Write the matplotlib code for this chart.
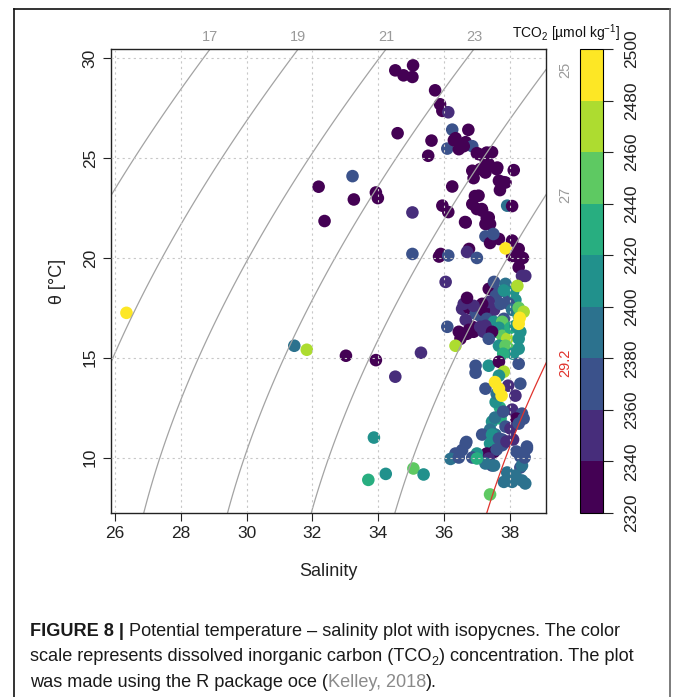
import numpy as np
import matplotlib
matplotlib.use('Agg')
import matplotlib.pyplot as plt
from matplotlib.colors import ListedColormap, BoundaryNorm
from matplotlib.cm import ScalarMappable
from matplotlib.lines import Line2D

plt.rcParams['font.family'] = ['Liberation Sans', 'DejaVu Sans']
plt.rcParams['mathtext.fontset'] = 'custom'
plt.rcParams['mathtext.rm'] = 'Liberation Sans'
plt.rcParams['mathtext.it'] = 'Liberation Sans:italic'
plt.rcParams['mathtext.bf'] = 'Liberation Sans:bold'

# ---------------- data ----------------
salinity = [
    26.35, 31.45, 31.83, 33.02, 32.19, 33.22, 33.26, 32.37, 33.93, 33.99,
    35.04, 35.04, 35.85, 33.93, 35.30, 34.52, 33.87, 33.70, 34.23, 35.07, 35.38,
    34.52, 34.77, 35.04, 35.06, 35.73, 35.88, 35.95, 36.13, 34.59, 35.62,
    35.52, 36.25, 36.74, 36.35, 36.10, 36.45, 36.66, 36.86, 37.00, 37.46,
    37.26, 37.10, 37.26, 37.62, 37.67, 37.87, 38.12, 36.25, 37.05, 36.86,
    37.16, 37.36, 36.66, 37.26, 37.92, 38.07, 35.95, 36.13, 36.30, 36.60,
    37.06, 37.30, 36.86, 36.90, 37.36, 37.60, 37.70, 37.80, 36.94, 37.00,
    37.15, 37.30, 37.40, 36.64, 36.76,
    37.26, 37.46, 37.67, 38.07, 38.27, 35.90, 36.13, 36.70, 37.00, 37.40,
    38.07, 38.27, 38.27, 38.47, 37.50, 38.40,
    36.05, 37.36, 37.52, 37.87, 38.37, 37.57, 37.97, 38.17, 37.67, 37.82,
    38.10, 36.55, 36.76, 36.96, 37.10, 37.36, 37.52, 37.21, 37.36, 37.16,
    36.90, 36.60, 36.70, 37.72, 37.97, 38.07, 38.27, 38.27, 37.82, 37.30,
    37.52, 37.77, 37.67, 37.60, 37.77, 37.92, 37.97, 38.27, 38.27, 37.67,
    37.87, 38.02, 38.17, 38.32, 36.50, 36.70, 36.86, 37.26, 36.10, 36.66,
    36.45, 36.76, 36.90, 37.10, 37.20, 37.46, 37.36, 38.10, 37.80, 36.35,
    38.23, 38.42,
    37.36, 36.96, 37.67, 38.27, 37.82, 36.96, 37.67, 37.26, 38.32, 38.17,
    37.70, 37.57, 38.07, 38.37, 38.20, 37.46, 37.72, 37.87, 38.02, 38.27,
    38.42, 37.40, 37.16, 37.56, 37.46, 37.40, 37.77, 37.67, 37.77, 37.90,
    38.10, 37.52, 37.30, 37.60, 37.55, 37.80, 37.95, 37.60,
    36.66, 36.68, 36.55, 36.35, 37.00, 36.86, 36.20, 36.45, 37.36, 37.46,
    38.52, 38.32, 38.32, 38.37, 37.92, 38.17, 38.37, 37.82, 38.07, 38.47,
    37.52, 37.26, 37.00, 37.40, 38.45, 38.20, 38.52,
    37.87, 38.27, 37.55, 37.67, 37.75, 38.30,
]
theta = [
    17.25, 15.60, 15.40, 15.10, 23.57, 24.10, 22.93, 21.85, 23.28, 23.00,
    22.28, 20.20, 20.07, 14.88, 15.25, 14.05, 11.00, 8.88, 9.18, 9.45, 9.15,
    29.40, 29.15, 29.07, 29.65, 28.40, 27.70, 27.37, 27.30, 26.25, 25.88,
    25.12, 26.43, 26.42, 26.00, 25.48, 25.45, 25.80, 25.60, 25.25, 25.30,
    24.95, 24.45, 24.28, 24.53, 23.87, 23.78, 24.40, 23.58, 23.12, 22.70,
    22.37, 22.03, 21.78, 21.70, 22.62, 22.60, 22.62, 22.30, 25.90, 25.60,
    25.20, 25.28, 24.37, 24.00, 24.70, 24.45, 23.40, 23.80, 23.10, 22.45,
    22.45, 22.00, 21.70, 21.80, 20.45,
    21.08, 21.15, 20.95, 20.87, 20.45, 20.20, 20.12, 20.30, 20.00, 20.75,
    20.10, 20.00, 19.53, 19.10, 21.20, 20.00,
    18.80, 18.45, 18.80, 18.70, 19.10, 18.10, 18.10, 17.90, 18.30, 18.37,
    18.30, 17.45, 17.50, 17.20, 17.10, 17.20, 17.40, 17.37, 17.80, 17.70,
    17.60, 17.70, 18.00, 17.70, 17.70, 17.40, 17.10, 17.50, 16.95, 16.95,
    16.80, 16.80, 16.50, 16.30, 16.10, 15.95, 15.45, 15.95, 15.45, 15.60,
    15.60, 16.50, 16.60, 16.30, 15.95, 16.20, 16.55, 16.60, 16.55, 16.90,
    16.30, 16.40, 16.30, 16.55, 16.30, 16.30, 15.95, 15.20, 15.20, 15.60,
    18.60, 17.30,
    14.60, 14.60, 14.80, 14.70, 14.30, 14.25, 14.10, 13.45, 13.70, 13.10,
    12.50, 12.78, 12.40, 12.20, 11.95, 11.80, 11.95, 11.55, 11.45, 11.70,
    11.95, 11.40, 11.15, 11.15, 11.15, 10.70, 10.90, 10.95, 10.62, 10.80,
    10.90, 10.28, 10.20, 10.40, 12.00, 12.30, 13.60, 13.20,
    10.70, 10.78, 10.37, 10.20, 10.20, 10.00, 9.93, 10.00, 9.95, 9.60,
    10.45, 10.05, 9.50, 9.60, 9.25, 9.10, 8.85, 8.78, 8.78, 8.70,
    9.60, 9.70, 9.95, 8.15, 10.00, 10.30, 10.55,
    20.48, 16.70, 13.78, 13.45, 13.10, 17.00,
]
tco2 = [
    2490, 2390, 2470, 2330, 2330, 2370, 2330, 2330, 2330, 2330,
    2350, 2370, 2330, 2330, 2350, 2350, 2410, 2430, 2410, 2450, 2410,
    2330, 2330, 2330, 2330, 2330, 2330, 2330, 2350, 2330, 2330,
    2330, 2370, 2330, 2330, 2370, 2330, 2330, 2370, 2330, 2330,
    2330, 2330, 2330, 2330, 2330, 2330, 2330, 2330, 2330, 2330,
    2330, 2330, 2330, 2330, 2390, 2330, 2330, 2330, 2330, 2330,
    2330, 2330, 2330, 2330, 2330, 2330, 2330, 2330, 2330, 2330,
    2330, 2330, 2330, 2330, 2330,
    2370, 2370, 2330, 2330, 2330, 2330, 2370, 2350, 2370, 2330,
    2330, 2330, 2330, 2350, 2370, 2330,
    2350, 2330, 2370, 2390, 2350, 2370, 2370, 2410, 2370, 2410,
    2410, 2350, 2330, 2370, 2370, 2330, 2350, 2330, 2350, 2330,
    2350, 2350, 2330, 2370, 2370, 2390, 2410, 2450, 2370, 2370,
    2410, 2450, 2410, 2410, 2450, 2470, 2450, 2410, 2410, 2410,
    2450, 2430, 2410, 2410, 2330, 2330, 2330, 2350, 2370, 2350,
    2330, 2330, 2330, 2350, 2350, 2330, 2370, 2410, 2430, 2470,
    2470, 2470,
    2410, 2370, 2330, 2370, 2470, 2370, 2410, 2370, 2370, 2350,
    2430, 2410, 2350, 2370, 2330, 2410, 2430, 2370, 2350, 2370,
    2370, 2390, 2370, 2390, 2410, 2410, 2370, 2370, 2370, 2350,
    2350, 2330, 2330, 2370, 2390, 2370, 2350, 2390,
    2370, 2370, 2370, 2370, 2410, 2370, 2390, 2370, 2350, 2370,
    2370, 2370, 2370, 2390, 2390, 2390, 2390, 2390, 2390, 2390,
    2390, 2390, 2430, 2450, 2370, 2370, 2370,
    2490, 2490, 2490, 2490, 2490, 2490,
]

tco2_levels = [2320, 2340, 2360, 2380, 2400, 2420, 2440, 2460, 2480, 2500]
iso_levels = [17, 19, 21, 23, 25, 27]
iso_red = [29.2]
x_ticks = [26, 28, 30, 32, 34, 36, 38]
y_ticks = [10, 15, 20, 25, 30]
xlim = (25.88, 39.10)
ylim = (7.22, 30.47)


def sigma0(S, T):
    """UNESCO 1983 (EOS-80) density anomaly at p=0."""
    rw = (999.842594 + 6.793952e-2 * T - 9.095290e-3 * T**2 + 1.001685e-4 * T**3
          - 1.120083e-6 * T**4 + 6.536332e-9 * T**5)
    A = 8.24493e-1 - 4.0899e-3 * T + 7.6438e-5 * T**2 - 8.2467e-7 * T**3 + 5.3875e-9 * T**4
    B = -5.72466e-3 + 1.0227e-4 * T - 1.6546e-6 * T**2
    C = 4.8314e-4
    return rw + A * S + B * S**1.5 + C * S**2 - 1000.0


W, H = 673, 697
fig = plt.figure(figsize=(W / 100, H / 100), dpi=100)


def fx(px):
    return px / W


def fy(py):
    return 1 - py / H


ax = fig.add_axes([fx(111), fy(513), (546 - 111) / W, (513 - 49) / H])

ncol = len(tco2_levels) - 1
cmap = ListedColormap(plt.get_cmap('viridis')(np.linspace(0, 1, ncol)))
norm = BoundaryNorm(tco2_levels, ncol)

ax.scatter(salinity, theta, c=tco2, cmap=cmap, norm=norm, s=82,
           linewidths=0, zorder=1)

Sg, Tg = np.meshgrid(np.linspace(25.0, 40.0, 400), np.linspace(6.0, 31.5, 400))
sig = sigma0(Sg, Tg)
ax.contour(Sg, Tg, sig, levels=iso_levels, colors='#a3a3a3', linewidths=0.9, zorder=2)
ax.contour(Sg, Tg, sig, levels=iso_red, colors='#e0342e', linewidths=0.9, zorder=2)

ax.set_xlim(*xlim)
ax.set_ylim(*ylim)
ax.set_xticks(x_ticks)
ax.set_yticks(y_ticks)
ax.set_axisbelow(False)
ax.grid(True, color='#c8c8c8', linestyle=(0, (2, 3)), linewidth=0.8)
for sp in ax.spines.values():
    sp.set_linewidth(1.0)
    sp.set_color('#222222')
ax.tick_params(direction='out', length=5.5, width=0.8, labelsize=12.5, pad=4,
               colors='#222222')
ax.tick_params(axis='y', labelrotation=90)
for lab in ax.get_yticklabels():
    lab.set_va('center')

# isopycnal labels
all_levels = iso_levels + iso_red
for lev in all_levels:
    col = '#e0342e' if lev in iso_red else '#9a9a9a'
    txt = ('%g' % lev)
    s_arr = np.linspace(xlim[0], xlim[1], 4000)
    v_top = sigma0(s_arr, ylim[1])
    if v_top.min() <= lev <= v_top.max():
        s_root = np.interp(lev, v_top, s_arr)
        ax.annotate(txt, (s_root, ylim[1]), xytext=(0, 3.5), textcoords='offset points',
                    ha='center', va='bottom', fontsize=10.5, color=col,
                    annotation_clip=False)
    else:
        t_arr = np.linspace(ylim[0], ylim[1], 4000)
        v_r = sigma0(xlim[1], t_arr)
        if v_r.min() <= lev <= v_r.max():
            t_root = np.interp(lev, v_r[::-1], t_arr[::-1])
            ax.annotate(txt, (xlim[1], t_root), xytext=(8.5, 0), textcoords='offset points',
                        ha='left', va='center', rotation=90, fontsize=10.5, color=col,
                        annotation_clip=False)

# colorbar
cax = fig.add_axes([fx(580), fy(513), 23 / W, (513 - 49) / H])
sm = ScalarMappable(norm=norm, cmap=cmap)
cb = fig.colorbar(sm, cax=cax, boundaries=tco2_levels, ticks=tco2_levels)
cb.outline.set_linewidth(0.8)
cax.tick_params(direction='out', length=7, width=0.8, labelsize=12.5, pad=8.5,
                colors='#222222')
for lab in cax.get_yticklabels():
    lab.set_rotation(90)
    lab.set_va('center')

fig.text(fx(620), fy(38), r'TCO$_2$ [µmol kg$^{-1}$]', ha='right', va='baseline',
         fontsize=10, color='#111111')

fig.text(fx(328), fy(571), 'Salinity', ha='center', va='center', fontsize=13,
         color='#222222')
fig.text(fx(57), fy(281), 'θ [°C]', ha='center', va='center', rotation=90,
         fontsize=13, color='#222222')

# frame
fig.add_artist(Line2D([fx(14), fx(14)], [fy(9), 0], color='#111111', lw=1.2,
                      transform=fig.transFigure))
fig.add_artist(Line2D([fx(14), fx(670)], [fy(9), fy(9)], color='#111111', lw=1.2,
                      transform=fig.transFigure))
fig.add_artist(Line2D([fx(670), fx(670)], [fy(9), 0], color='#666666', lw=1.2,
                      transform=fig.transFigure))

# caption
fig.canvas.draw()
renderer = fig.canvas.get_renderer()

line1 = [('FIGURE 8 |', {'fontweight': 'bold'}),
         (' Potential temperature – salinity plot with isopycnes. The color', {})]
line2 = [('scale represents dissolved inorganic carbon (TCO', {}),
         ('2', {'sub': True}),
         (') concentration. The plot', {})]
line3 = [('was made using the R package oce (', {}),
         ('Kelley, 2018', {'color': '#8a8a8a'}),
         (').', {})]


def place(pieces, x0, ybase, fs, draw=True):
    x = x0
    made = []
    for s, kw in pieces:
        kw = dict(kw)
        size = fs
        yb = ybase
        if kw.pop('sub', False):
            size = fs * 0.7
            yb = ybase + 4
        t = fig.text(x / W, 1 - yb / H, s, ha='left', va='baseline', fontsize=size,
                     color=kw.pop('color', '#1a1a1a'), **kw)
        bb = t.get_window_extent(renderer=renderer)
        x += bb.width
        made.append(t)
    if not draw:
        for t in made:
            t.remove()
    return x - x0


w1 = place(line1, 30, 636, 12, draw=False)
fs = 12 * 590 / w1
place(line1, 30, 636, fs)
place(line2, 30, 661, fs)
place(line3, 30, 687, fs)

fig.savefig('out.png', dpi=100)
